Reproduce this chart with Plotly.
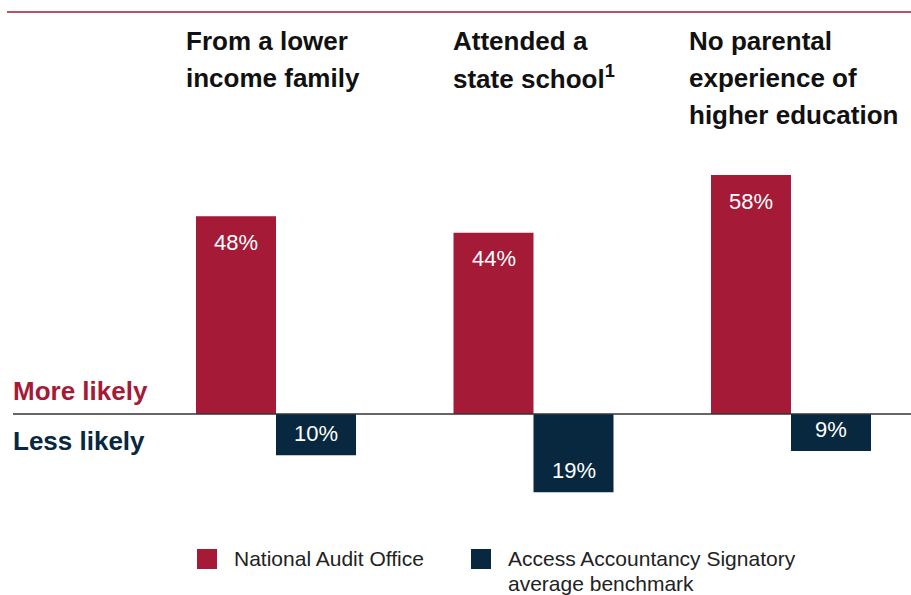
import plotly.graph_objects as go

# ---- data ----
categories = [["From a lower", "income family"],
              ["Attended a", "state school<sup style='font-size:14px'>1</sup>"],
              ["No parental", "experience of", "higher education"]]
series_names = ["National Audit Office", ["Access Accountancy Signatory", "average benchmark"]]
nao_values = [48, 44, 58]          # more likely (%)
benchmark_values = [10, 19, 9]     # less likely (%)

RED = "#A51A36"
NAVY = "#07283F"
FONT = "Liberation Sans, Arial, sans-serif"

W, H = 911, 595
x_pos = list(range(len(categories)))
bar_w = 80 / 257.5

fig = go.Figure()
fig.add_trace(go.Bar(x=x_pos, y=nao_values, width=bar_w, offset=-bar_w,
                     marker=dict(color=RED, line=dict(width=0)), name="NAO",
                     hoverinfo="skip"))
fig.add_trace(go.Bar(x=x_pos, y=[-v for v in benchmark_values], width=bar_w, offset=0,
                     marker=dict(color=NAVY, line=dict(width=0)), name="Benchmark",
                     hoverinfo="skip"))

ann = []
# value labels
for i, v in enumerate(nao_values):
    ann.append(dict(x=x_pos[i] - bar_w / 2, y=v, xref="x", yref="y", text=f"{v}%",
                    showarrow=False, yshift=-26, font=dict(family=FONT, size=22, color="white")))
for i, v in enumerate(benchmark_values):
    ann.append(dict(x=x_pos[i] + bar_w / 2, y=-v, xref="x", yref="y", text=f"{v}%",
                    showarrow=False, yshift=22, font=dict(family=FONT, size=22, color="white")))

# category titles (line by line)
title_x = [187, 454, 690]
for i, lines in enumerate(categories):
    for j, line in enumerate(lines):
        ann.append(dict(x=title_x[i] / W, y=1 - (41 + 37 * j) / H, xref="paper", yref="paper",
                        text=f"<b>{line}</b>", showarrow=False, xanchor="left", yanchor="middle",
                        xshift=-3, font=dict(family=FONT, size=26, color="#111111")))

ann.append(dict(x=14 / W, y=1 - 391 / H, xref="paper", yref="paper", text="<b>More likely</b>",
                showarrow=False, xanchor="left", yanchor="middle", xshift=-3,
                font=dict(family=FONT, size=26, color=RED)))
ann.append(dict(x=14 / W, y=1 - 441 / H, xref="paper", yref="paper", text="<b>Less likely</b>",
                showarrow=False, xanchor="left", yanchor="middle", xshift=-3,
                font=dict(family=FONT, size=26, color=NAVY)))

# legend (manual)
shapes = []
leg = [(197, 234, RED, [series_names[0]]), (471, 508, NAVY, series_names[1])]
for sx, tx, col, lines in leg:
    shapes.append(dict(type="rect", xref="paper", yref="paper",
                       x0=sx / W, x1=(sx + 20) / W, y0=1 - 569 / H, y1=1 - 549 / H,
                       fillcolor=col, line=dict(width=0)))
    for j, line in enumerate(lines):
        ann.append(dict(x=tx / W, y=1 - (558 + 25 * j) / H, xref="paper", yref="paper",
                        text=line, showarrow=False, xanchor="left", yanchor="middle",
                        xshift=-2, font=dict(family=FONT, size=21, color="#222222")))

# top rule and baseline
shapes.append(dict(type="line", xref="paper", yref="paper", x0=7 / W, x1=1,
                   y0=1 - 12 / H, y1=1 - 12 / H, line=dict(color=RED, width=1.5)))
shapes.append(dict(type="line", xref="paper", yref="y", x0=13 / W, x1=1,
                   y0=0, y1=0, line=dict(color="#333333", width=1.5)))

px_per_unit = 4.12
base_px = 414
fig.update_layout(
    width=W, height=H, margin=dict(l=0, r=0, t=0, b=0),
    paper_bgcolor="white", plot_bgcolor="white",
    showlegend=False, barmode="overlay",
    xaxis=dict(range=[-276 / 257.5, (W - 276) / 257.5], visible=False, fixedrange=True),
    yaxis=dict(range=[-(H - base_px) / px_per_unit, base_px / px_per_unit],
               visible=False, fixedrange=True),
    annotations=ann, shapes=shapes,
)
fig.write_html("out.html")
